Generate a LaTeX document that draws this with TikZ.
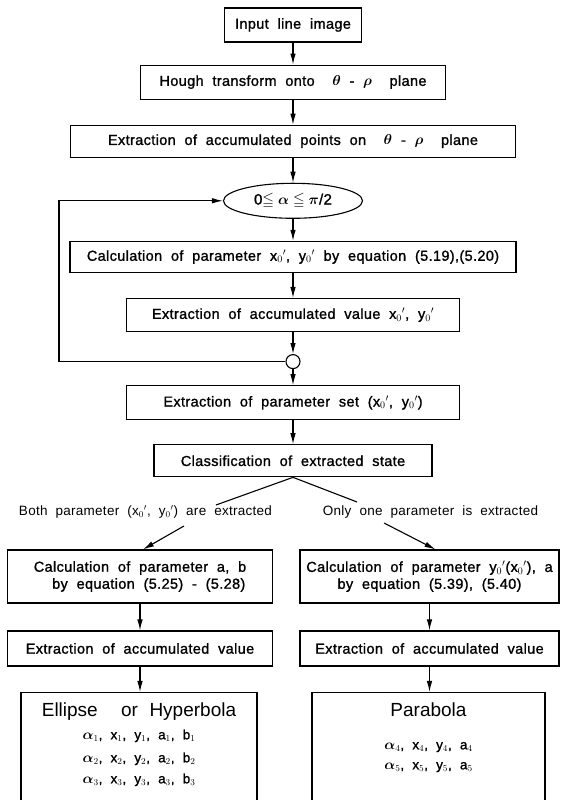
\documentclass[tikz,border=0pt]{standalone}
\usepackage{amsmath,amssymb}
\usepackage{fontspec}
\setmainfont{Liberation Sans}[WordSpace=2,LetterSpace=2]
\newfontfamily\boxfont{Liberation Sans}[WordSpace=2,LetterSpace=2.5,FakeBold=1.2]
\newfontfamily\titlefont{Liberation Sans}[WordSpace=2.2]
\newcommand\pr[2]{#1$_{#2}{}^\prime$}
\usetikzlibrary{arrows.meta,positioning,shapes.geometric}

\begin{document}
\begin{tikzpicture}[x=1pt,y=1pt,line width=1.1pt,
  box/.style={draw,align=center,minimum height=33pt,inner sep=3pt,font=\boxfont\fontsize{14.5}{17}\selectfont},
  result/.style={draw,align=center,anchor=north,inner xsep=3pt,inner ysep=10pt,text depth=120pt,font=\boxfont\fontsize{13.5}{22}\selectfont},
  arr/.style={-{Latex[length=11pt,width=5.5pt]}},
  lbl/.style={font=\fontsize{13.5}{16}\selectfont}]
\useasboundingbox (0,0) rectangle (568,800);
\clip (0,0) rectangle (568,800);
% main column
\node[box,minimum width=137pt,minimum height=34pt] (input) at (293,775) {Input line image};
\node[box,below=22pt of input,minimum width=305pt,minimum height=34pt] (hough) {Hough transform onto\ \ $\boldsymbol{\theta}$ - $\boldsymbol{\rho}$\ \ plane};
\node[box,below=25pt of hough,minimum width=445pt,minimum height=32pt] (accpts) {Extraction of accumulated points on\ \ $\boldsymbol{\theta}$ - $\boldsymbol{\rho}$\ \ plane};
\node[draw,ellipse,below=25pt of accpts,minimum width=139pt,minimum height=35pt,inner sep=1pt,font=\boxfont\fontsize{15}{17}\selectfont] (range) {0$\leqq\boldsymbol{\alpha}\leqq\boldsymbol{\pi}$/2};
\node[box,below=22pt of range,minimum width=446pt,minimum height=31pt] (calcxy) {Calculation of parameter \pr x0, \pr y0 by equation (5.19),(5.20)};
\node[box,below=25pt of calcxy,minimum width=333pt] (accval) {Extraction of accumulated value \pr x0, \pr y0};
\node[draw,circle,minimum size=14pt,inner sep=0pt,below=22pt of accval] (join) {};
\node[box,below=16pt of join,minimum width=333pt,minimum height=34pt] (pset) {Extraction of parameter set (\pr x0, \pr y0)};
\node[box,below=24pt of pset,minimum width=278pt,minimum height=32pt] (classify) {Classification of extracted state};
% two branches
\node[lbl] (both) at (145.5,288) {Both parameter (\pr x0, \pr y0) are extracted};
\node[lbl] (onlyone) at (430.5,288) {Only one parameter is extracted};
\node[box,minimum width=265pt,minimum height=53pt] (calcab) at (140,223.5) {Calculation of parameter a, b\\ \ \ by equation (5.25) - (5.28)};
\node[box,minimum width=259pt,minimum height=53pt] (calcya) at (429.5,223.5) {Calculation of parameter \pr y0(\pr x0), a\\ by equation (5.39), (5.40)};
\node[box,minimum width=265pt,minimum height=35pt] (valL) at (140,151.5) {Extraction of accumulated value};
\node[box,minimum width=259pt,minimum height=35pt] (valR) at (429.5,151.5) {Extraction of accumulated value};
\node[result,minimum width=236pt] (ellhyp) at (139,108) {{\titlefont\fontsize{19}{22}\selectfont Ellipse\ \ or Hyperbola}\\[1pt]
  $\boldsymbol{\alpha}_1$, x$_1$, y$_1$, a$_1$, b$_1$\\[1pt] $\boldsymbol{\alpha}_2$, x$_2$, y$_2$, a$_2$, b$_2$\\[-1pt] $\boldsymbol{\alpha}_3$, x$_3$, y$_3$, a$_3$, b$_3$};
\node[result,minimum width=233pt] (parab) at (428.5,108) {{\titlefont\fontsize{19}{22}\selectfont Parabola}\\[11pt]
  $\boldsymbol{\alpha}_4$, x$_4$, y$_4$, a$_4$\\[-2pt] $\boldsymbol{\alpha}_5$, x$_5$, y$_5$, a$_5$};
\coordinate (forkL) at (216,295);
\coordinate (forkR) at (357,298);
\coordinate (tailL) at (184,274);
\coordinate (tailR) at (384,277);
\coordinate (loopx) at (59,0);
% connectors
\draw[arr] (input) -- (hough);
\draw[arr] (hough) -- (accpts);
\draw[arr] (accpts) -- (range);
\draw[arr] (range) -- (calcxy);
\draw[arr] (calcxy) -- (accval);
\draw[arr] (accval) -- (join);
\draw[arr] (join) -- (pset);
\draw[arr] (join.west) -| (loopx |- range) -- (range.west);
\draw[arr] (pset) -- (classify);
\draw (classify.south) -- (forkL);
\draw (classify.south) -- (forkR);
\draw[arr] (tailL) -- ([xshift=3pt]calcab.north);
\draw[arr] (tailR) -- ([xshift=6pt]calcya.north);
\draw[arr] (calcab) -- (valL);
\draw[arr] (calcya) -- (valR);
\draw[arr] (valL.south) -- (valL.south |- ellhyp.north);
\draw[arr] (valR.south) -- (valR.south |- parab.north);
\end{tikzpicture}
\end{document}
